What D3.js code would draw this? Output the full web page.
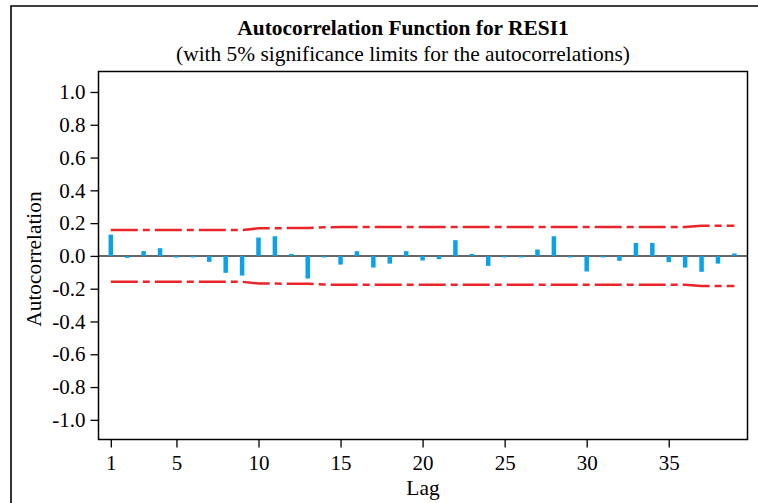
<!DOCTYPE html>
<html>
<head>
<meta charset="utf-8">
<script src="https://cdn.jsdelivr.net/npm/d3@7/dist/d3.min.js"></script>
<style>
  html, body { margin: 0; padding: 0; background: #fff; }
  svg { display: block; }
  svg text { font-family: "Liberation Serif", "Times New Roman", serif !important; fill: #000; }
</style>
</head>
<body>
<svg id="chart" width="758" height="503"></svg>
<script>
// ---- Data ----
const lags = d3.range(1, 40);
const acf = [
  0.130, -0.012, 0.029, 0.047, -0.010, -0.004, -0.036, -0.103, -0.120, 0.112,
  0.120, 0.012, -0.138, -0.005, -0.053, 0.029, -0.071, -0.047, 0.029, -0.028,
  -0.020, 0.096, 0.012, -0.061, -0.004, -0.004, 0.039, 0.120, -0.004, -0.095,
  -0.004, -0.030, 0.079, 0.079, -0.038, -0.071, -0.097, -0.047, 0.015
];
const limits = [
  0.158, 0.158, 0.158, 0.158, 0.158, 0.158, 0.158, 0.158, 0.158, 0.168,
  0.169, 0.170, 0.170, 0.175, 0.176, 0.176, 0.176, 0.176, 0.176, 0.176,
  0.176, 0.176, 0.176, 0.176, 0.176, 0.176, 0.176, 0.176, 0.176, 0.176,
  0.176, 0.176, 0.176, 0.176, 0.176, 0.176, 0.184, 0.184, 0.184
];
const xTicks = [1, 5, 10, 15, 20, 25, 30, 35];
const yTicks = [-1.0, -0.8, -0.6, -0.4, -0.2, 0.0, 0.2, 0.4, 0.6, 0.8, 1.0];
const titleText = "Autocorrelation Function for RESI1";
const subtitleText = "(with 5% significance limits for the autocorrelations)";
const xLabel = "Lag";
const yLabel = "Autocorrelation";

// ---- Layout ----
const svg = d3.select("#chart");
const plot = { left: 98.5, right: 747.5, top: 71.5, bottom: 439.5 };
const FONT = "'Liberation Serif', 'Times New Roman', serif";

const x = d3.scaleLinear().domain([0.25, 39.8]).range([plot.left, plot.right]);
const y = d3.scaleLinear().domain([-1.12, 1.125]).range([plot.bottom, plot.top]);

// outer frame (left & top edges visible)
svg.append("path")
  .attr("d", `M11,503 L11,6 L758,6`)
  .attr("fill", "none").attr("stroke", "#000").attr("stroke-width", 1.6);

// titles
svg.append("text").attr("x", 403).attr("y", 35).attr("text-anchor", "middle")
  .attr("font-family", FONT).attr("font-size", 21.4).attr("font-weight", "bold").text(titleText);
svg.append("text").attr("x", 403).attr("y", 61).attr("text-anchor", "middle")
  .attr("font-family", FONT).attr("font-size", 21.4).text(subtitleText);

// zero line
svg.append("line")
  .attr("x1", plot.left).attr("x2", plot.right)
  .attr("y1", y(0)).attr("y2", y(0))
  .attr("stroke", "#666").attr("stroke-width", 2);

// bars
const barW = 4.5;
svg.append("g").selectAll("rect").data(lags).join("rect")
  .attr("x", (d) => x(d) - barW / 2)
  .attr("width", barW)
  .attr("y", (d, i) => Math.min(y(acf[i]), y(0)))
  .attr("height", (d, i) => Math.max(1.5, Math.abs(y(acf[i]) - y(0))))
  .attr("fill", "#0ca2e8");

// significance limits
const limLine = (sign) => d3.line()
  .x((d) => x(d))
  .y((d, i) => y(sign * limits[i]));
[1, -1].forEach((s) => {
  svg.append("path").datum(lags)
    .attr("d", limLine(s))
    .attr("fill", "none")
    .attr("stroke", "#e8262a")
    .attr("stroke-width", 2.5)
    .attr("stroke-dasharray", "27,5,7,5");
});

// plot border
svg.append("rect")
  .attr("x", plot.left).attr("y", plot.top)
  .attr("width", plot.right - plot.left).attr("height", plot.bottom - plot.top)
  .attr("fill", "none").attr("stroke", "#000").attr("stroke-width", 1.5);

// y axis
const fmtY = (d) => d3.format(".1f")(d).replace("\u2212", "-");
const yAxis = d3.axisLeft(y).tickValues(yTicks).tickSize(8).tickPadding(5).tickFormat(fmtY);
const gy = svg.append("g").attr("transform", `translate(${plot.left},0)`).call(yAxis)
  .attr("font-family", FONT).attr("font-size", 21);
gy.select(".domain").remove();
gy.selectAll(".tick line").attr("stroke", "#000").attr("stroke-width", 1.3);
gy.selectAll(".tick text").attr("fill", "#000");

// x axis
const xAxis = d3.axisBottom(x).tickValues(xTicks).tickSize(8).tickPadding(8)
  .tickFormat(d3.format("d"));
const gx = svg.append("g").attr("transform", `translate(0,${plot.bottom})`).call(xAxis)
  .attr("font-family", FONT).attr("font-size", 21);
gx.select(".domain").remove();
gx.selectAll(".tick line").attr("stroke", "#000").attr("stroke-width", 1.3);
gx.selectAll(".tick text").attr("fill", "#000");

// axis labels
svg.append("text").attr("x", 423).attr("y", 495).attr("text-anchor", "middle")
  .attr("font-family", FONT).attr("font-size", 21.4).text(xLabel);
svg.append("text")
  .attr("transform", "translate(41,259) rotate(-90)")
  .attr("text-anchor", "middle")
  .attr("font-family", FONT).attr("font-size", 21.4).text(yLabel);
</script>
</body>
</html>
